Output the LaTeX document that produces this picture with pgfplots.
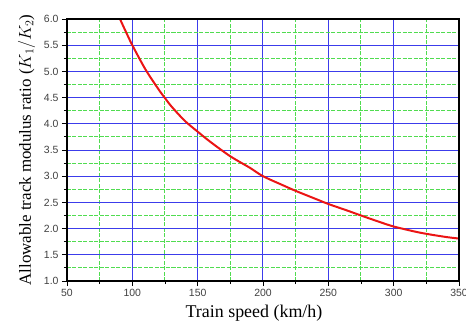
\documentclass[border=0pt]{standalone}
\usepackage{fontspec}
\setmainfont{Liberation Serif}
\setsansfont{Liberation Sans}
\usepackage{pgfplots}
\pgfplotsset{compat=1.18}
\definecolor{gridblue}{RGB}{60,60,235}
\definecolor{gridgreen}{RGB}{80,220,80}
\definecolor{curvered}{RGB}{235,20,20}
\begin{document}
\begin{tikzpicture}
\begin{axis}[
  scale only axis,
  width=392bp, height=262bp,
  xmin=50, xmax=350, ymin=1, ymax=6,
  xtick={50,100,150,200,250,300,350},
  ytick={1,1.5,2,2.5,3,3.5,4,4.5,5,5.5,6},
  minor xtick={75,125,175,225,275,325},
  minor ytick={1.25,1.75,2.25,2.75,3.25,3.75,4.25,4.75,5.25,5.75},
  grid=both,
  major grid style={color=gridblue, line width=1bp},
  minor grid style={color=gridgreen, line width=1bp, dash pattern=on 4bp off 1.5bp},
  axis line style={line width=1.3pt},
  major tick style={line width=1pt, color=black},
  minor tick style={line width=1pt, color=black},
  major tick length=5bp, minor tick length=3bp,
  tick align=outside,
  xtick pos=bottom, ytick pos=left,
  /pgf/number format/assume math mode=true,
  ticklabel style={font=\sffamily\fontsize{10.5}{12}\selectfont, text=black!75},
  yticklabel style={/pgf/number format/.cd, fixed, fixed zerofill, precision=1},
  xlabel={Train speed (km/h)},
  ylabel={Allowable track modulus ratio ($K_1/K_2$)},
  xlabel style={font=\fontsize{18}{20}\selectfont, yshift=-1bp, xshift=-9bp},
  ylabel style={font=\fontsize{17}{19}\selectfont, yshift=2bp},
  clip=true,
]
\addplot[curvered, line width=2pt, smooth] coordinates {
(88,6.15) (90,6.03) (95,5.76) (100,5.5) (110,5.04) (120,4.66) (125,4.49) (130,4.33)
(140,4.06) (150,3.85) (160,3.65) (175,3.38) (190,3.16) (200,3.0) (215,2.83)
(225,2.72) (240,2.57) (250,2.47) (265,2.34) (275,2.25) (290,2.12) (300,2.04)
(315,1.95) (325,1.9) (340,1.84) (350,1.81)
};
\draw[black, line width=1.3pt] (rel axis cs:0,0) rectangle (rel axis cs:1,1);
\end{axis}
\pgfresetboundingbox
\path[use as bounding box] (current axis.south west) ++(-67bp,-44bp) rectangle ++(466bp,325bp);
\end{tikzpicture}
\end{document}
